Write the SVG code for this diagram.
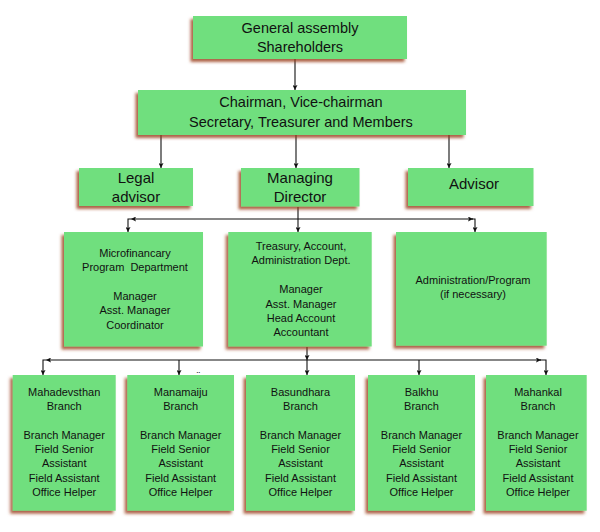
<svg xmlns="http://www.w3.org/2000/svg" width="600" height="532" viewBox="0 0 600 532">
<style>
.box{fill:#6fdf7e;filter:url(#sh);}
.t{font-family:"Liberation Sans",Arial,sans-serif;fill:#111;text-anchor:middle;}
.big{font-size:14.5px;}
.mid{font-size:15px;}
.sm{font-size:11px;}
.c{stroke:#111;stroke-width:1.1;fill:none;marker-end:url(#ah);}
</style>
<defs>
<filter id="sh" x="-10%" y="-10%" width="120%" height="130%">
<feDropShadow dx="-2.5" dy="3" stdDeviation="1.4" flood-color="#9a3a1c" flood-opacity="0.8"/>
</filter>
<marker id="ah" viewBox="0 0 10 10" refX="10" refY="5" markerUnits="userSpaceOnUse" markerWidth="8" markerHeight="5" orient="auto">
<path d="M0,0 L10,5 L0,10 L2,5 z" fill="#111"/>
</marker>
</defs>

<g id="connectors">
<line class="c" x1="295" y1="59" x2="295" y2="90"/>
<line class="c" x1="161" y1="135" x2="161" y2="168"/>
<line class="c" x1="296" y1="135" x2="296" y2="168"/>
<line class="c" x1="449" y1="135" x2="449" y2="168"/>
<line class="c" x1="298" y1="207" x2="298" y2="232"/>
<line class="c" x1="298" y1="219" x2="131" y2="219"/>
<line class="c" x1="298" y1="219" x2="473" y2="219"/>
<path class="c" d="M131,219 H128 V232"/>
<path class="c" d="M472,219 H475 V232"/>
<line class="c" x1="307" y1="347" x2="307" y2="360"/>
<line class="c" x1="307" y1="360" x2="307" y2="375"/>
<line class="c" x1="307" y1="360" x2="46" y2="360"/>
<line class="c" x1="307" y1="360" x2="541" y2="360"/>
<path class="c" d="M46,360 H43 V375"/>
<path class="c" d="M540,360 H546 V375"/>
<line class="c" x1="179" y1="360" x2="179" y2="375"/>
<line class="c" x1="419" y1="360" x2="419" y2="375"/>
</g>

<g id="general">
<rect class="box" x="193" y="16" width="214" height="43"/>
<text class="t big" x="300" y="32.5">General assembly</text>
<text class="t big" x="300" y="51.7">Shareholders</text>
</g>

<g id="chairman">
<rect class="box" x="138" y="90" width="328" height="45"/>
<text class="t big" x="301" y="107.3">Chairman, Vice-chairman</text>
<text class="t big" x="301" y="126.7">Secretary, Treasurer and Members</text>
</g>

<g id="legal">
<rect class="box" x="79" y="168" width="114" height="38"/>
<text class="t mid" x="136" y="183.3">Legal</text>
<text class="t mid" x="136" y="202.3">advisor</text>
</g>

<g id="md">
<rect class="box" x="241" y="168" width="118.5" height="38.5"/>
<text class="t mid" x="300" y="183.3">Managing</text>
<text class="t mid" x="300" y="202.3">Director</text>
</g>

<g id="advisor">
<rect class="box" x="408" y="168" width="125.5" height="38"/>
<text class="t mid" x="474" y="189">Advisor</text>
</g>

<g id="microfinance">
<rect class="box" x="64" y="232" width="139" height="114.5"/>
<text class="t sm" x="135" y="256.7">Microfinancary</text>
<text class="t sm" x="135" y="271.1" xml:space="preserve">Program  Department</text>
<text class="t sm" x="135" y="299.9">Manager</text>
<text class="t sm" x="135" y="314.3">Asst. Manager</text>
<text class="t sm" x="135" y="328.7">Coordinator</text>
</g>

<g id="treasury">
<rect class="box" x="228.3" y="232" width="143.4" height="114.5"/>
<text class="t sm" x="301" y="250">Treasury, Account,</text>
<text class="t sm" x="301" y="264.4">Administration Dept.</text>
<text class="t sm" x="301" y="293.2">Manager</text>
<text class="t sm" x="301" y="307.6">Asst. Manager</text>
<text class="t sm" x="301" y="322">Head Account</text>
<text class="t sm" x="301" y="336.4">Accountant</text>
</g>

<g id="admin">
<rect class="box" x="396" y="232" width="150.7" height="113.7"/>
<text class="t sm" x="473" y="284">Administration/Program</text>
<text class="t sm" x="473" y="298.3">(if necessary)</text>
</g>

<g id="mahadevsthan">
<rect class="box" x="12.7" y="375" width="103" height="135.7"/>
<text class="t sm" x="64.2" y="395.7">Mahadevsthan</text>
<text class="t sm" x="64.2" y="410">Branch</text>
<text class="t sm" x="64.2" y="438.6">Branch Manager</text>
<text class="t sm" x="64.2" y="452.9">Field Senior</text>
<text class="t sm" x="64.2" y="467.2">Assistant</text>
<text class="t sm" x="64.2" y="481.5">Field Assistant</text>
<text class="t sm" x="64.2" y="495.8">Office Helper</text>
</g>

<g id="manamaiju">
<rect class="box" x="127.3" y="375" width="106.7" height="135.7"/>
<text class="t sm" x="180.7" y="395.7">Manamaiju</text>
<text class="t sm" x="180.7" y="410">Branch</text>
<text class="t sm" x="180.7" y="438.6">Branch Manager</text>
<text class="t sm" x="180.7" y="452.9">Field Senior</text>
<text class="t sm" x="180.7" y="467.2">Assistant</text>
<text class="t sm" x="180.7" y="481.5">Field Assistant</text>
<text class="t sm" x="180.7" y="495.8">Office Helper</text>
</g>

<g id="basundhara">
<rect class="box" x="246" y="375" width="109" height="135.7"/>
<text class="t sm" x="300.5" y="395.7">Basundhara</text>
<text class="t sm" x="300.5" y="410">Branch</text>
<text class="t sm" x="300.5" y="438.6">Branch Manager</text>
<text class="t sm" x="300.5" y="452.9">Field Senior</text>
<text class="t sm" x="300.5" y="467.2">Assistant</text>
<text class="t sm" x="300.5" y="481.5">Field Assistant</text>
<text class="t sm" x="300.5" y="495.8">Office Helper</text>
</g>

<g id="balkhu">
<rect class="box" x="368" y="375" width="107" height="135.7"/>
<text class="t sm" x="421.5" y="395.7">Balkhu</text>
<text class="t sm" x="421.5" y="410">Branch</text>
<text class="t sm" x="421.5" y="438.6">Branch Manager</text>
<text class="t sm" x="421.5" y="452.9">Field Senior</text>
<text class="t sm" x="421.5" y="467.2">Assistant</text>
<text class="t sm" x="421.5" y="481.5">Field Assistant</text>
<text class="t sm" x="421.5" y="495.8">Office Helper</text>
</g>

<g id="mahankal">
<rect class="box" x="486" y="375" width="100.7" height="135.7"/>
<text class="t sm" x="538" y="395.7">Mahankal</text>
<text class="t sm" x="538" y="410">Branch</text>
<text class="t sm" x="538" y="438.6">Branch Manager</text>
<text class="t sm" x="538" y="452.9">Field Senior</text>
<text class="t sm" x="538" y="467.2">Assistant</text>
<text class="t sm" x="538" y="481.5">Field Assistant</text>
<text class="t sm" x="538" y="495.8">Office Helper</text>
</g>

<text class="t" font-size="10" x="198.5" y="379.5" fill="#333">¨</text>
</svg>
